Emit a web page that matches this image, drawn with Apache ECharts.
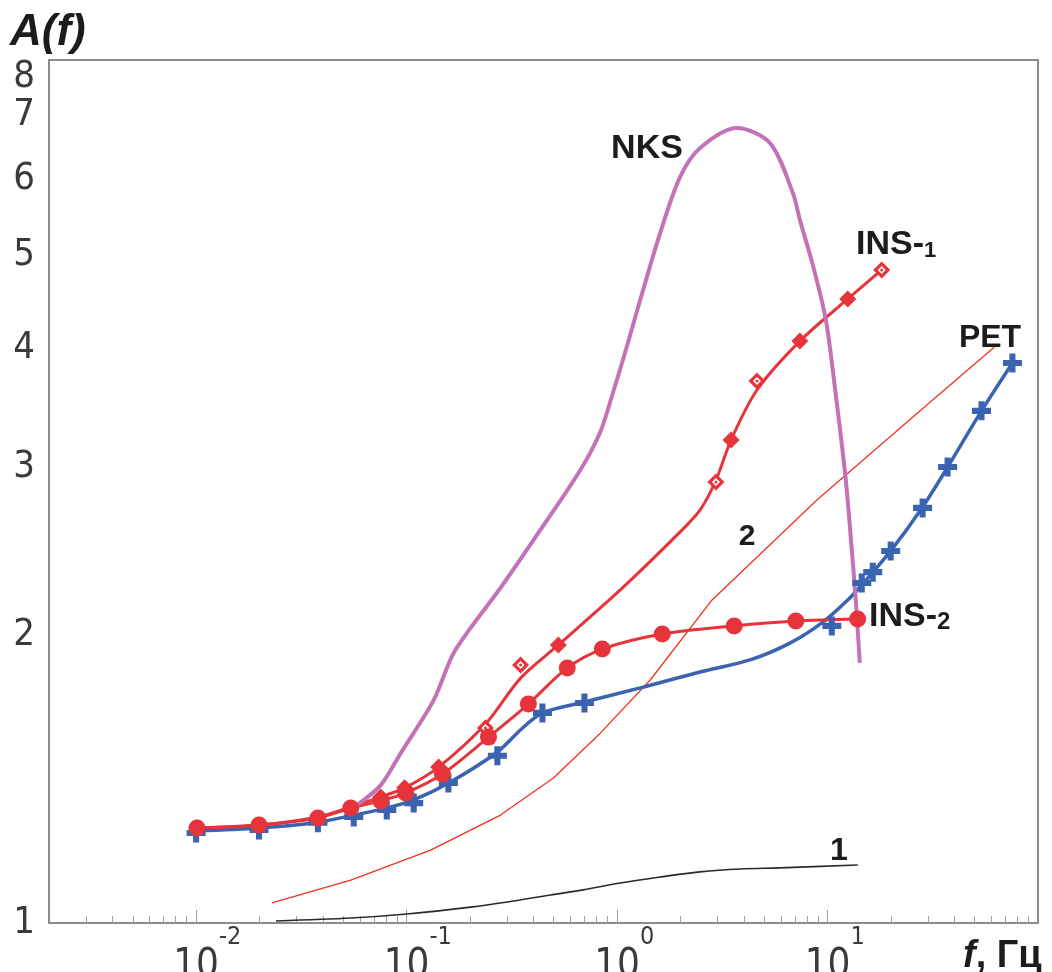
<!DOCTYPE html>
<html>
<head>
<meta charset="utf-8">
<script src="https://cdn.jsdelivr.net/npm/echarts@6/dist/echarts.min.js"></script>
<style>
html, body { margin: 0; padding: 0; background: #fff; }
#chart { width: 1052px; height: 972px; }
</style>
</head>
<body>
<div id="chart"></div>
<script>
// axis ticks (real values, drawn on log10 scale)
const yTicks = [1, 2, 3, 4, 5, 6, 7, 8]
const xMajorTicks = [0.01, 0.1, 1, 10]
const xMinorTicks = [
  0.003, 0.004, 0.005, 0.006, 0.007, 0.008, 0.009,
  0.02, 0.03, 0.04, 0.05, 0.06, 0.07, 0.08, 0.09,
  0.2, 0.3, 0.4, 0.5, 0.6, 0.7, 0.8, 0.9,
  2, 3, 4, 5, 6, 7, 8, 9,
  20, 30, 40, 50, 60, 70, 80, 90
]
const xMin = 0.002
const xMax = 100
const yMin = 1
const yMax = 8

// INS-2 (circles, line through them)
const ins2F = [0.0101, 0.0199, 0.0379, 0.0543, 0.0754, 0.099, 0.148, 0.245, 0.379, 0.58, 0.851, 1.64, 3.6, 7.07, 13.9]
const ins2A = [1.257, 1.266, 1.288, 1.319, 1.342, 1.368, 1.432, 1.565, 1.695, 1.849, 1.935, 2.006, 2.046, 2.07, 2.08]

// INS-1 fitted line
const ins1LineF = [0.0101, 0.0199, 0.0379, 0.0543, 0.0754, 0.0979, 0.142, 0.237, 0.348, 0.526, 1.036, 1.994, 2.481, 2.954, 3.479, 4.622, 7.39, 12.48, 18.09]
const ins1LineA = [1.257, 1.266, 1.291, 1.323, 1.355, 1.385, 1.456, 1.615, 1.804, 1.954, 2.231, 2.566, 2.706, 2.908, 3.202, 3.612, 4.064, 4.498, 4.824]
// INS-1 markers: filled diamonds and open diamonds
const ins1SolidF = [0.0101, 0.0199, 0.0379, 0.0543, 0.0754, 0.0979, 0.142, 0.526, 3.48, 7.39, 12.48]
const ins1SolidA = [1.257, 1.266, 1.288, 1.319, 1.355, 1.385, 1.456, 1.954, 3.202, 4.064, 4.498]
const ins1OpenF = [0.237, 0.348, 2.95, 4.62, 18.09]
const ins1OpenA = [1.600, 1.862, 2.894, 3.691, 4.824]

// PET (blue crosses + fitted line)
const petF = [0.01, 0.0199, 0.0379, 0.0561, 0.0805, 0.1081, 0.158, 0.270, 0.442, 0.70, 10.48, 14.54, 16.40, 19.96, 28.3, 37.2, 53.9, 75.6]
const petA = [1.242, 1.251, 1.273, 1.291, 1.313, 1.335, 1.401, 1.496, 1.659, 1.699, 2.046, 2.269, 2.329, 2.451, 2.719, 3.0, 3.435, 3.855]
const petLineF = [0.01, 0.0199, 0.0379, 0.0561, 0.0804, 0.1081, 0.1584, 0.2704, 0.3475, 0.4419, 0.699, 1.288, 2.481, 4.281, 6.625, 9.50, 12.48, 14.54, 19.96, 28.31, 37.2, 53.9, 75.6]
const petLineA = [1.248, 1.257, 1.275, 1.297, 1.319, 1.345, 1.401, 1.510, 1.592, 1.659, 1.703, 1.762, 1.831, 1.885, 1.963, 2.065, 2.178, 2.258, 2.451, 2.725, 3.0, 3.435, 3.855]

// NKS
const nksF = [0.0574, 0.0754, 0.0938, 0.1345, 0.1655, 0.2014, 0.2794, 0.4323, 0.6693, 0.8325, 0.9489, 1.094, 1.288, 1.603, 1.994, 2.481, 3.715, 5.325, 6.846, 7.39, 8.514, 9.82, 10.95, 12.21, 13.04, 13.62, 14.23]
const nksA = [1.326, 1.394, 1.506, 1.711, 1.908, 2.036, 2.242, 2.578, 2.979, 3.265, 3.569, 3.959, 4.487, 5.274, 6.036, 6.471, 6.791, 6.55, 5.806, 5.442, 4.882, 4.276, 3.569, 2.908, 2.457, 2.178, 1.872]

// curve 2 (thin red) and curve 1 (thin black)
const curve2F = [0.02293, 0.0543, 0.1301, 0.2794, 0.4985, 0.8325, 1.437, 2.828, 8.901, 31.57, 62.13]
const curve2A = [1.0494, 1.109, 1.192, 1.297, 1.418, 1.580, 1.796, 2.178, 2.771, 3.526, 4.006]
const curve1F = [0.02395, 0.0543, 0.1001, 0.2014, 0.3016, 0.4824, 0.6916, 1.036, 1.603, 2.481, 3.839, 5.94, 13.92]
const curve1A = [1.005, 1.012, 1.022, 1.039, 1.052, 1.070, 1.083, 1.101, 1.117, 1.131, 1.139, 1.142, 1.150]

const RED = '#e6343a'
const BLUE = '#3a63b0'
const PURPLE = '#c472b8'
const TEXT = '#1c1c1c'
const NUM_COLOR = '#3a3a3a'
const NUM_FONT = '"Liberation Sans Narrow", "Arial Narrow", "DejaVu Sans Condensed", sans-serif'
const BOLD_FONT = '"Liberation Sans", Arial, sans-serif'
const PLUS = 'path://M34,0H66V34H100V66H66V100H34V66H0V34H34Z'

const lg = Math.log10
function pairs(fs, as) {
  return fs.map((f, i) => [lg(f), lg(as[i])])
}

function lineSeries(name, data, color, width, smooth, z) {
  return {
    name, type: 'line', data, smooth, showSymbol: false,
    lineStyle: { color, width }, z
  }
}

function markerSeries(name, data, symbol, size, color, z) {
  return {
    name, type: 'scatter', data, symbol, symbolSize: size,
    itemStyle: { color, opacity: 1 }, z
  }
}

const chart = echarts.init(document.getElementById('chart'), null, { renderer: 'canvas' })

const ins1Open = pairs(ins1OpenF, ins1OpenA)

const option = {
  animation: false,
  backgroundColor: '#fff',
  grid: {
    left: 49, right: 14, top: 60, bottom: 49,
    show: true, borderColor: '#8c8c8c', borderWidth: 2,
    outerBoundsMode: 'none'
  },
  xAxis: [
    {
      type: 'value', min: lg(xMin), max: lg(xMax), position: 'bottom',
      axisLine: { show: true, onZero: false, lineStyle: { color: '#8c8c8c', width: 2 } },
      axisTick: { show: true, inside: true, length: 13, customValues: xMajorTicks.map(lg), lineStyle: { color: '#a0a0a0', width: 1 } },
      splitLine: { show: false },
      axisLabel: {
        customValues: xMajorTicks.map(lg),
        margin: 2,
        formatter: (v) => {
          const e = String(Math.round(v))
          return '{p|' + e + '}{b|10}{s|' + e + '}'
        },
        rich: {
          b: { fontSize: 40, lineHeight: 62, fontFamily: NUM_FONT, color: NUM_COLOR, verticalAlign: 'bottom' },
          s: { fontSize: 25, lineHeight: 26, fontFamily: NUM_FONT, color: NUM_COLOR, verticalAlign: 'top' },
          p: { fontSize: 25, lineHeight: 26, fontFamily: NUM_FONT, color: 'rgba(0,0,0,0)', verticalAlign: 'top' }
        }
      }
    },
    {
      type: 'value', min: lg(xMin), max: lg(xMax), position: 'bottom',
      axisLine: { show: false },
      axisTick: { show: true, inside: true, length: 7, customValues: xMinorTicks.map(lg), lineStyle: { color: '#a0a0a0', width: 1 } },
      axisLabel: { show: false },
      splitLine: { show: false }
    }
  ],
  yAxis: {
    type: 'value', min: lg(yMin), max: lg(yMax),
    axisLine: { show: false },
    axisTick: { show: false },
    splitLine: { show: false },
    axisLabel: {
      customValues: yTicks.map(lg),
      margin: 14,
      fontSize: 38,
      fontFamily: NUM_FONT,
      color: NUM_COLOR,
      hideOverlap: false,
      showMaxLabel: true,
      showMinLabel: true,
      formatter: (v) => {
        const n = Math.round(Math.pow(10, v))
        return n === 8 ? '{low|8}' : String(n)
      },
      rich: {
        low: { fontSize: 38, fontFamily: NUM_FONT, color: NUM_COLOR, padding: [34, 0, 0, 0] }
      }
    }
  },
  series: [
    lineSeries('1', pairs(curve1F, curve1A), '#2a2a2a', 1.6, 0.3, 2),
    lineSeries('2', pairs(curve2F, curve2A), '#f2311f', 1.3, false, 2),
    lineSeries('PET line', pairs(petLineF, petLineA), BLUE, 3.5, 0.3, 3),
    lineSeries('INS-1 line', pairs(ins1LineF, ins1LineA), RED, 3, 0.3, 3),
    lineSeries('INS-2 line', pairs(ins2F, ins2A), RED, 3, 0.3, 3),
    lineSeries('NKS', pairs(nksF, nksA), PURPLE, 4, 0.3, 4),
    markerSeries('PET', pairs(petF, petA), PLUS, 19, BLUE, 5),
    markerSeries('INS-1', pairs(ins1SolidF, ins1SolidA), 'diamond', 17, RED, 6),
    markerSeries('INS-1 open', ins1Open, 'diamond', 17, RED, 6),
    markerSeries('INS-1 open centre', ins1Open, 'diamond', 8, '#ffffff', 6.1),
    markerSeries('INS-1 open dot', ins1Open, 'circle', 3, RED, 6.2),
    markerSeries('INS-2', pairs(ins2F, ins2A), 'circle', 17, RED, 7)
  ],
  graphic: [
    { type: 'text', x: 10, y: 33, style: { text: 'A(f)', fill: TEXT, font: 'italic bold 44px ' + BOLD_FONT, align: 'left', verticalAlign: 'middle' } },
    { type: 'text', x: 647, y: 149, style: { text: 'NKS', fill: TEXT, font: 'bold 34px ' + BOLD_FONT, align: 'center', verticalAlign: 'middle' } },
    {
      type: 'text', x: 856, y: 245,
      style: {
        text: '{a|INS-}{b|1}', align: 'left', verticalAlign: 'middle',
        rich: {
          a: { fill: TEXT, fontSize: 34, fontWeight: 'bold', fontFamily: BOLD_FONT, verticalAlign: 'bottom' },
          b: { fill: TEXT, fontSize: 22, fontWeight: 'bold', fontFamily: BOLD_FONT, verticalAlign: 'bottom' }
        }
      }
    },
    {
      type: 'text', x: 869, y: 617,
      style: {
        text: '{a|INS-}{b|2}', align: 'left', verticalAlign: 'middle',
        rich: {
          a: { fill: TEXT, fontSize: 34, fontWeight: 'bold', fontFamily: BOLD_FONT, verticalAlign: 'bottom' },
          b: { fill: TEXT, fontSize: 24, fontWeight: 'bold', fontFamily: BOLD_FONT, verticalAlign: 'bottom' }
        }
      }
    },
    { type: 'text', x: 990, y: 338, style: { text: 'PET', fill: TEXT, font: 'bold 32px ' + BOLD_FONT, align: 'center', verticalAlign: 'middle' } },
    { type: 'text', x: 747, y: 537, style: { text: '2', fill: TEXT, font: 'bold 30px ' + BOLD_FONT, align: 'center', verticalAlign: 'middle' } },
    { type: 'text', x: 839, y: 851, style: { text: '1', fill: TEXT, font: 'bold 32px ' + BOLD_FONT, align: 'center', verticalAlign: 'middle' } },
    {
      type: 'text', x: 963, y: 957,
      style: {
        text: '{i|f}{n|, Гц}', align: 'left', verticalAlign: 'middle',
        rich: {
          i: { fill: TEXT, fontSize: 38, fontWeight: 'bold', fontStyle: 'italic', fontFamily: BOLD_FONT },
          n: { fill: TEXT, fontSize: 38, fontWeight: 'bold', fontFamily: BOLD_FONT }
        }
      }
    }
  ]
}

chart.setOption(option)
</script>
</body>
</html>
